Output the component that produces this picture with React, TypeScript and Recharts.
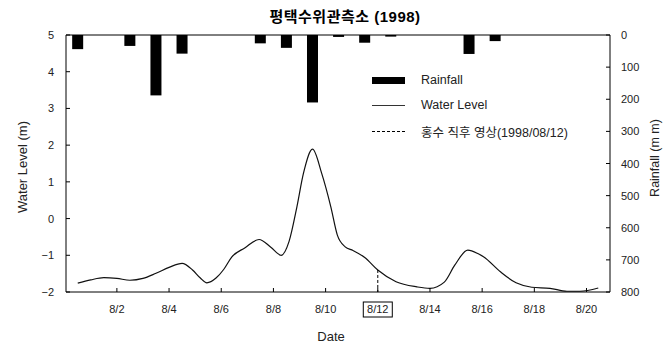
import { ComposedChart, Bar, Line, XAxis, YAxis, ReferenceLine } from 'recharts';

// rainfall (mm), bars centred on the middle of each day
const rainDays = [0.5, 2.5, 3.5, 4.5, 7.5, 8.5, 9.5, 10.5, 11.5, 12.5, 15.5, 16.5];
const rainfall = [44, 34, 188, 58, 26, 40, 210, 6, 24, 5, 59, 19];

// water level (m)
const levelDays = [
    0.5, 1.0, 1.5, 2.0, 2.5, 3.0, 3.5, 4.0, 4.5, 4.9, 5.2, 5.45, 5.8, 6.1, 6.4, 6.9, 7.45, 7.9,
    8.3, 8.6, 8.9, 9.15, 9.5, 9.85, 10.2, 10.45, 10.75, 11.05, 11.5, 12.0, 12.7, 13.5, 14.0,
    14.55, 14.95, 15.45, 15.85, 16.05, 16.7, 17.3, 17.9, 18.6, 19.25, 19.75, 20.45,
];
const waterLevel = [
    -1.76, -1.67, -1.61, -1.63, -1.68, -1.63, -1.49, -1.33, -1.22, -1.4, -1.62, -1.75, -1.62,
    -1.38, -1.05, -0.8, -0.57, -0.78, -1.0, -0.62, 0.32, 1.23, 1.89, 1.23, 0.32, -0.45, -0.77,
    -0.87, -1.06, -1.4, -1.72, -1.86, -1.9, -1.73, -1.27, -0.86, -0.96, -1.04, -1.45, -1.75,
    -1.87, -1.9, -1.98, -1.98, -1.89,
];

const dateTicks = [2, 4, 6, 8, 10, 12, 14, 16, 18, 20];
const levelTicks = [-2, -1, 0, 1, 2, 3, 4, 5];
const rainTicks = [0, 100, 200, 300, 400, 500, 600, 700, 800];
const photoDay = 12;
const photoLevel = waterLevel[levelDays.indexOf(photoDay)];

const data = [
    ...rainDays.map((day, i) => ({ day, rain: rainfall[i] })),
    ...levelDays.map((day, i) => ({ day, level: waterLevel[i] })),
].sort((a, b) => a.day - b.day);

const FONT = '"Liberation Sans", Arial, "Noto Sans CJK KR", sans-serif';
const INK = '#222';

const RainBar = (props: any) => {
    const { x, y, width, height } = props;
    if (height == null || isNaN(height)) return null;
    const cx = x + width / 2;
    const top = Math.min(y, y + height);
    return <rect x={cx - 5.5} y={top} width={11} height={Math.abs(height)} fill="#000" />;
};

const DateTick = (props: any) => {
    const { x, y, payload } = props;
    return (
        <g>
            <line x1={x} x2={x} y1={y} y2={y - 4} stroke="#000" />
            {payload.value === photoDay && (
                <rect x={x - 14.5} y={y + 10} width={29} height={15} fill="none" stroke="#000" />
            )}
            <text x={x} y={y + 21} textAnchor="middle" fontSize={11} fill={INK} fontFamily={FONT}>
                {`8/${payload.value}`}
            </text>
        </g>
    );
};

const LevelTick = (props: any) => {
    const { x, y, payload } = props;
    return (
        <g>
            <line x1={x} x2={x + 4} y1={y} y2={y} stroke="#000" />
            <text x={x - 12} y={y + 4} textAnchor="end" fontSize={11} fill={INK} fontFamily={FONT}>
                {payload.value < 0 ? `\u2212${-payload.value}` : payload.value}
            </text>
        </g>
    );
};

const RainTick = (props: any) => {
    const { x, y, payload } = props;
    return (
        <g>
            <line x1={x - 4} x2={x} y1={y} y2={y} stroke="#000" />
            <text x={x + 11} y={y + 4} textAnchor="start" fontSize={11} fill={INK} fontFamily={FONT}>
                {payload.value}
            </text>
        </g>
    );
};

const abs = (style: any) => ({ position: 'absolute' as const, whiteSpace: 'nowrap' as const, ...style });

const App = () => {
    return (
        <div style={{ position: 'absolute', left: 0, top: 0, width: 664, height: 345, background: '#fff', overflow: 'hidden', fontFamily: FONT, color: INK }}>
            <ComposedChart width={664} height={345} data={data} margin={{ top: 35, right: 0, bottom: 0, left: 0 }}>
                <XAxis
                    dataKey="day"
                    type="number"
                    domain={[0.05, 20.9]}
                    ticks={dateTicks}
                    interval={0}
                    height={53}
                    tickSize={0}
                    tickMargin={0}
                    tickLine={false}
                    tick={<DateTick />}
                    axisLine={{ stroke: '#000' }}
                    allowDataOverflow
                />
                <YAxis
                    yAxisId="left"
                    type="number"
                    domain={[-2, 5]}
                    ticks={levelTicks}
                    interval={0}
                    width={66}
                    tickSize={0}
                    tickMargin={0}
                    tickLine={false}
                    tick={<LevelTick />}
                    axisLine={{ stroke: '#000' }}
                />
                <YAxis
                    yAxisId="rain"
                    orientation="right"
                    type="number"
                    domain={[0, 800]}
                    reversed
                    ticks={rainTicks}
                    interval={0}
                    width={54}
                    tickSize={0}
                    tickMargin={0}
                    tickLine={false}
                    tick={<RainTick />}
                    axisLine={{ stroke: '#000' }}
                />
                <ReferenceLine yAxisId="left" y={5} stroke="#000" />
                <Bar yAxisId="rain" dataKey="rain" barSize={11} shape={<RainBar />} isAnimationActive={false} />
                <Line
                    yAxisId="left"
                    dataKey="level"
                    type="monotone"
                    stroke="#111"
                    strokeWidth={1.2}
                    dot={false}
                    activeDot={false}
                    connectNulls
                    isAnimationActive={false}
                />
                <ReferenceLine
                    yAxisId="left"
                    segment={[{ x: photoDay, y: photoLevel }, { x: photoDay, y: -2 }]}
                    stroke="#000"
                    strokeDasharray="3 2"
                />
            </ComposedChart>

            <div style={abs({ left: 345, top: 5, transform: 'translateX(-50%)', fontSize: 15, fontWeight: 'bold', color: '#000', letterSpacing: 0.5 })}>
                평택수위관측소 (1998)
            </div>
            <div style={abs({ left: 22, top: 167, transform: 'translate(-50%, -50%) rotate(-90deg)', fontSize: 13 })}>
                Water Level (m)
            </div>
            <div style={abs({ left: 655, top: 158, transform: 'translate(-50%, -50%) rotate(-90deg)', fontSize: 12.5, lineHeight: '14px' })}>
                Rainfall (m m)
            </div>
            <div style={abs({ left: 331, top: 336, transform: 'translate(-50%, -50%)', fontSize: 13 })}>
                Date
            </div>

            {/* legend */}
            <div style={abs({ left: 372, top: 77, width: 33, height: 7, background: '#000' })} />
            <div style={abs({ left: 421, top: 80, transform: 'translateY(-50%)', fontSize: 12.5 })}>Rainfall</div>
            <div style={abs({ left: 372, top: 105, width: 33, borderTop: '1px solid #333' })} />
            <div style={abs({ left: 421, top: 105, transform: 'translateY(-50%)', fontSize: 12.5 })}>Water Level</div>
            <div style={abs({ left: 372, top: 131, width: 33, borderTop: '1px dashed #000' })} />
            <div style={abs({ left: 421, top: 131, transform: 'translateY(-50%)', fontSize: 12.5 })}>홍수 직후 영상(1998/08/12)</div>
        </div>
    );
};

export default App;
